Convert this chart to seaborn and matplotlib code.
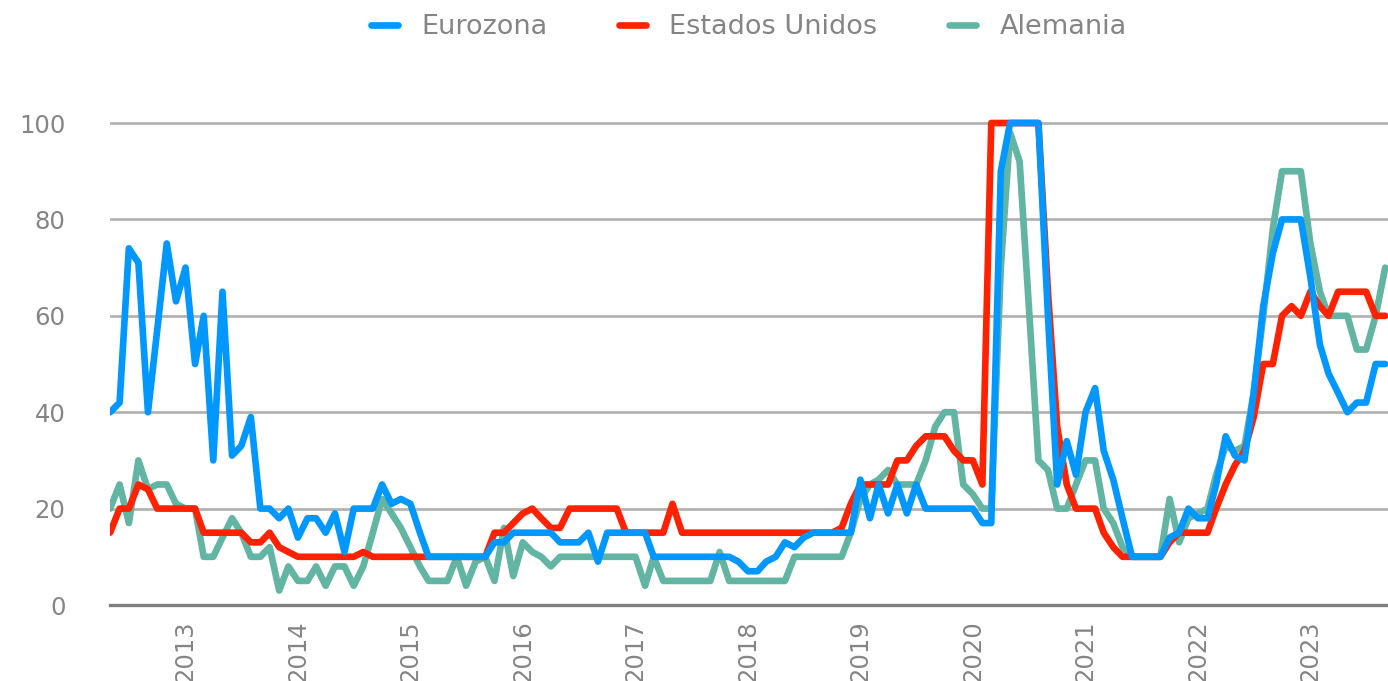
import matplotlib
matplotlib.use("Agg")
import matplotlib.pyplot as plt
import pandas as pd
import seaborn as sns

# ---------------- data (monthly, from May 2012) ----------------
start_month = "2012-05-01"

eurozona = [
    40, 42, 74, 71, 40, 57, 75, 63, 70, 50,
    60, 30, 65, 31, 33, 39, 20, 20, 18, 20,
    14, 18, 18, 15, 19, 11, 20, 20, 20, 25,
    21, 22, 21, 15, 10, 10, 10, 10, 10, 10,
    10, 13, 13, 15, 15, 15, 15, 15, 13, 13,
    13, 15, 9, 15, 15, 15, 15, 15, 10, 10,
    10, 10, 10, 10, 10, 10, 10, 9, 7, 7,
    9, 10, 13, 12, 14, 15, 15, 15, 15, 15,
    26, 18, 25, 19, 25, 19, 25, 20, 20, 20,
    20, 20, 20, 17, 17, 90, 100, 100, 100, 100,
    60, 25, 34, 27, 40, 45, 32, 26, 18, 10,
    10, 10, 10, 14, 15, 20, 18, 18, 25, 35,
    31, 30, 44, 62, 73, 80, 80, 80, 68, 54,
    48, 44, 40, 42, 42, 50, 50,
]

estados_unidos = [
    15, 20, 20, 25, 24, 20, 20, 20, 20, 20,
    15, 15, 15, 15, 15, 13, 13, 15, 12, 11,
    10, 10, 10, 10, 10, 10, 10, 11, 10, 10,
    10, 10, 10, 10, 10, 10, 10, 10, 10, 10,
    10, 15, 15, 17, 19, 20, 18, 16, 16, 20,
    20, 20, 20, 20, 20, 15, 15, 15, 15, 15,
    21, 15, 15, 15, 15, 15, 15, 15, 15, 15,
    15, 15, 15, 15, 15, 15, 15, 15, 16, 21,
    25, 25, 25, 25, 30, 30, 33, 35, 35, 35,
    32, 30, 30, 25, 100, 100, 100, 100, 100, 100,
    65, 37, 25, 20, 20, 20, 15, 12, 10, 10,
    10, 10, 10, 13, 15, 15, 15, 15, 20, 25,
    29, 32, 39, 50, 50, 60, 62, 60, 65, 62,
    60, 65, 65, 65, 65, 60, 60,
]

alemania = [
    20, 25, 17, 30, 24, 25, 25, 21, 20, 20,
    10, 10, 14, 18, 15, 10, 10, 12, 3, 8,
    5, 5, 8, 4, 8, 8, 4, 8, 15, 22,
    19, 16, 12, 8, 5, 5, 5, 10, 4, 9,
    10, 5, 16, 6, 13, 11, 10, 8, 10, 10,
    10, 10, 10, 10, 10, 10, 10, 4, 10, 5,
    5, 5, 5, 5, 5, 11, 5, 5, 5, 5,
    5, 5, 5, 10, 10, 10, 10, 10, 10, 15,
    22, 25, 26, 28, 25, 25, 25, 30, 37, 40,
    40, 25, 23, 20, 20, 70, 98, 92, 62, 30,
    28, 20, 20, 25, 30, 30, 20, 17, 12, 10,
    10, 10, 10, 22, 13, 18, 19, 20, 27, 33,
    32, 33, 44, 60, 78, 90, 90, 90, 75, 65,
    60, 60, 60, 53, 53, 60, 70,
]

series_names = ["Eurozona", "Estados Unidos", "Alemania"]
series_colors = ["#0098ff", "#ff2200", "#62b5a3"]
year_labels = ["2013", "2014", "2015", "2016", "2017", "2018",
               "2019", "2020", "2021", "2022", "2023"]
y_ticks = [0, 20, 40, 60, 80, 100]

# ---------------- tidy frame ----------------
fechas = pd.date_range(start_month, periods=len(eurozona), freq="MS")
wide = pd.DataFrame({"fecha": fechas,
                     "Eurozona": eurozona,
                     "Estados Unidos": estados_unidos,
                     "Alemania": alemania})
df = wide.melt(id_vars="fecha", var_name="serie", value_name="valor")

# ---------------- style ----------------
sns.set_theme(style="white")
plt.rcParams["font.family"] = ["DejaVu Sans"]
text_gray = "#858585"

fig = plt.figure(figsize=(13.88, 6.81), dpi=100)
ax = fig.add_axes([0.0793, 0.1116, 0.9207, 0.7219])

draw_order = series_names[::-1]          # Alemania bottom, Eurozona on top
palette = dict(zip(series_names, series_colors))
sns.lineplot(data=df, x="fecha", y="valor", hue="serie",
             hue_order=draw_order, palette=palette,
             linewidth=4.8, ax=ax, legend=True)

# axes limits
ax.set_ylim(0, 102)
ax.set_xlim(fechas[0], fechas[-1] + pd.Timedelta(days=9))

# grid / spines
ax.set_yticks(y_ticks)
ax.yaxis.grid(True, color="#b3b3b3", linewidth=2.0)
ax.xaxis.grid(False)
for s in ["top", "right", "left"]:
    ax.spines[s].set_visible(False)
ax.spines["bottom"].set_color("#7f7f7f")
ax.spines["bottom"].set_linewidth(2.4)
ax.set_axisbelow(True)

# ticks
ax.set_yticklabels([str(v) for v in y_ticks])
ax.tick_params(axis="y", length=0, pad=32, labelsize=17.5, labelcolor=text_gray)
xt = pd.to_datetime([f"{y}-01-01" for y in year_labels])
ax.set_xticks(xt)
ax.set_xticklabels(year_labels, rotation=90, va="top", ha="center")
ax.tick_params(axis="x", length=0, pad=11, labelsize=17.5, labelcolor=text_gray)
ax.set_xlabel("")
ax.set_ylabel("")

# legend in original order
handles, labels = ax.get_legend_handles_labels()
hmap = dict(zip(labels, handles))
ax.get_legend().remove()
leg = fig.legend([hmap[n] for n in series_names], series_names,
                 loc="center", bbox_to_anchor=(0.5395, 0.96), ncol=3,
                 frameon=False, fontsize=19.5, handlelength=1.0,
                 handletextpad=0.85, columnspacing=2.65)
for t in leg.get_texts():
    t.set_color(text_gray)
for l in leg.get_lines():
    l.set_linewidth(4.8)

fig.savefig("out.png", dpi=100)
